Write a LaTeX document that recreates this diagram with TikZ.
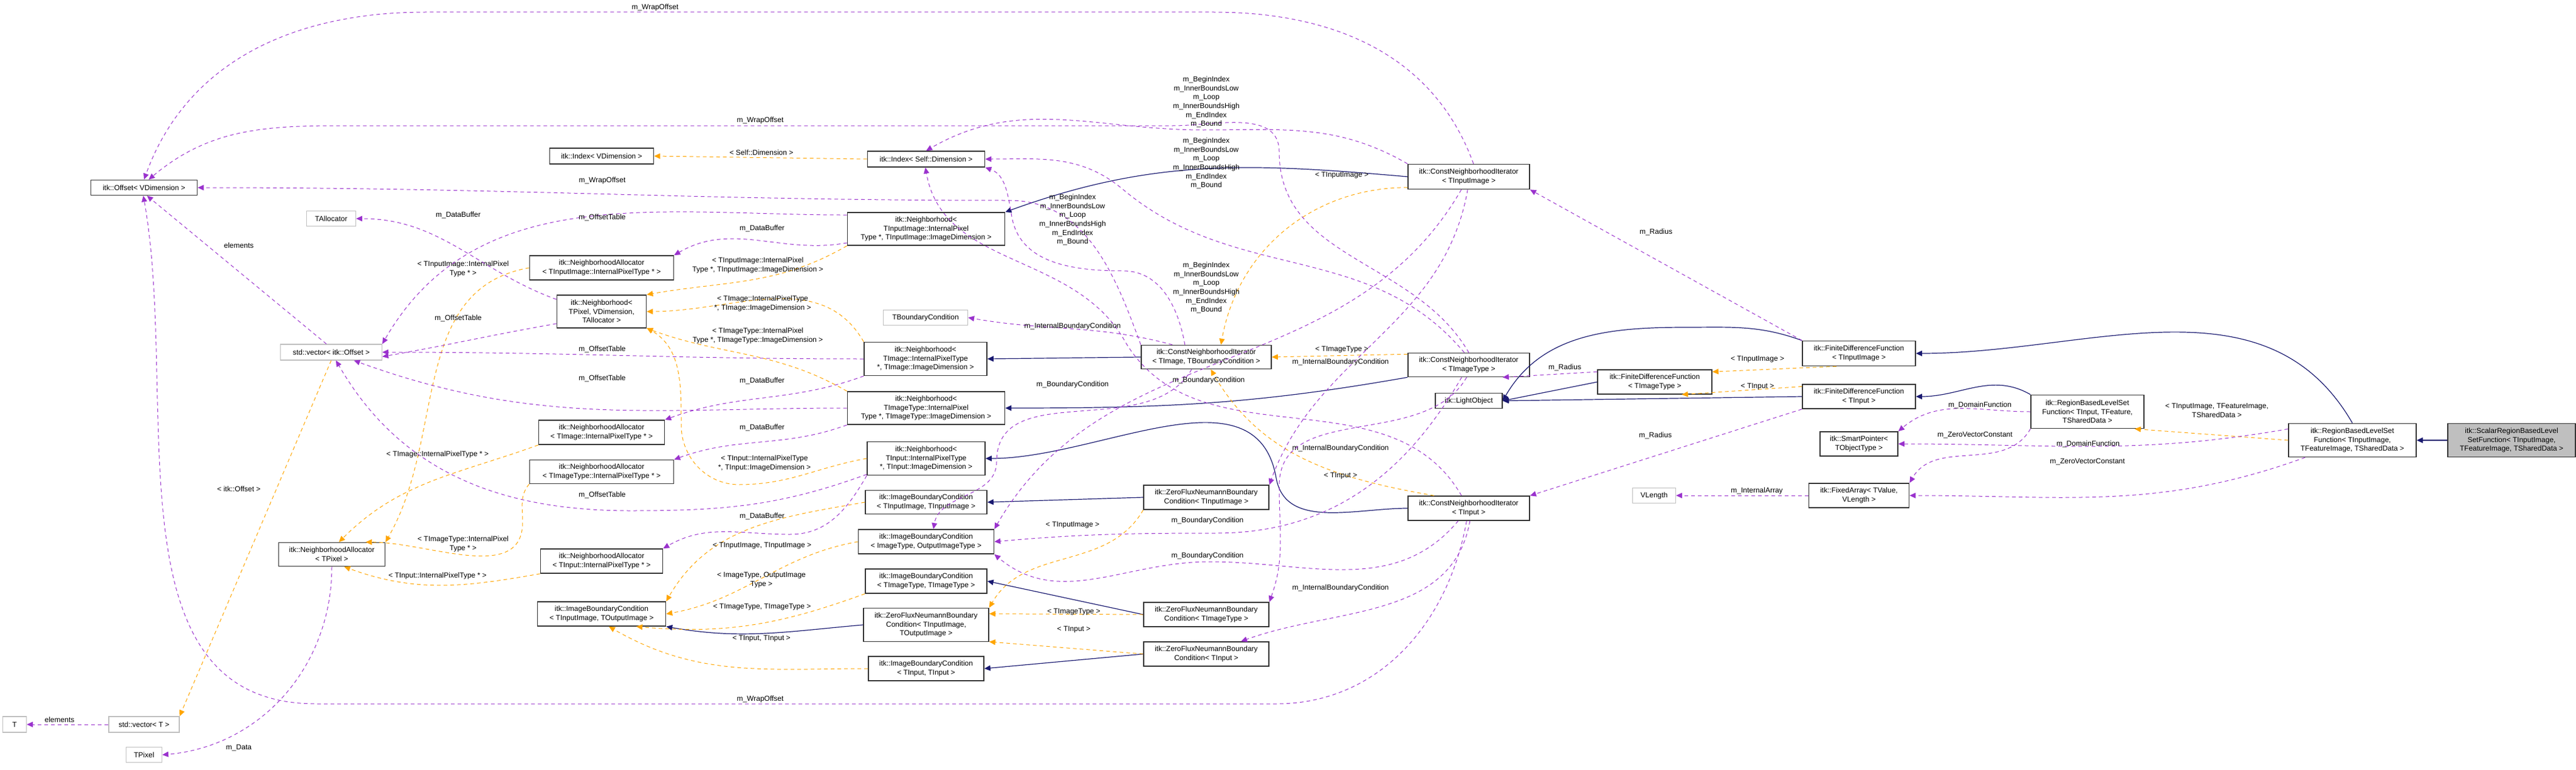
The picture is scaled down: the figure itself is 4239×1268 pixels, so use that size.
\documentclass[tikz,border=0pt]{standalone}
\usepackage{fontspec}
\setmainfont{Liberation Sans}
\usetikzlibrary{arrows.meta}
\definecolor{pur}{HTML}{9A32CD}
\definecolor{ora}{HTML}{FFA500}
\definecolor{nav}{HTML}{191970}
\newcommand\bx[7][]{\node[box,#1,minimum width=#5*0.5pt,minimum height=#6*0.5pt] (#2) at (#3,-#4) {#7};}
\newcommand\lb[3]{\node[lab] at (#1,-#2) {#3};}
\begin{document}
\begin{tikzpicture}[x=0.5pt,y=0.5pt,
  every node/.style={font=\fontsize{6}{7.3}\selectfont},
  box/.style={draw=black!80,line width=0.8pt,fill=white,inner sep=0pt,align=center},
  gbox/.style={draw=black!25,line width=0.6pt},
  lab/.style={inner sep=0pt,align=center},
  tip/.style={-{Triangle[length=5pt,width=4.5pt]}},
  pu/.style={tip,draw=pur,dash pattern=on 3pt off 2.5pt,line width=0.5pt},
  or/.style={tip,draw=ora,dash pattern=on 3pt off 2.5pt,line width=0.5pt},
  nv/.style={tip,draw=nav,line width=0.6pt}]
\useasboundingbox (0,0) rectangle (4239,-1268);
% nodes
\bx{off}{237}{309}{175}{25}{itk::Offset< VDimension >}
\bx[gbox]{talloc}{545}{360}{81}{25}{TAllocator}
\bx[gbox]{vecoff}{545}{580}{167}{26}{std::vector< itk::Offset >}
\bx{nalloc}{546}{913}{175}{39}{itk::NeighborhoodAllocator\\< TPixel >}
\bx[gbox]{vect}{237}{1193}{116}{26}{std::vector< T >}
\bx[gbox]{tt}{24}{1193}{39}{26}{T}
\bx[gbox]{tpix}{237}{1243}{59}{25}{TPixel}
\bx{idxv}{990}{257}{171}{26}{itk::Index< VDimension >}
\bx{idxs}{1524}{262}{193}{26}{itk::Index< Self::Dimension >}
\bx{nbh}{990}{513}{147}{54}{itk::Neighborhood<\\ TPixel, VDimension,\\ TAllocator >}
\bx{naIn}{990}{441}{237}{40}{itk::NeighborhoodAllocator\\< TInputImage::InternalPixelType * >}
\bx{nbIn}{1524}{377}{259}{54}{itk::Neighborhood<\\ TInputImage::InternalPixel\\Type *, TInputImage::ImageDimension >}
\bx[gbox]{tbc}{1523}{523}{139}{25}{TBoundaryCondition}
\bx{nbIm}{1523}{591}{202}{55}{itk::Neighborhood<\\ TImage::InternalPixelType\\ *, TImage::ImageDimension >}
\bx{nbIT}{1524}{672}{259}{54}{itk::Neighborhood<\\ TImageType::InternalPixel\\Type *, TImageType::ImageDimension >}
\bx{naIm}{990}{712}{207}{40}{itk::NeighborhoodAllocator\\< TImage::InternalPixelType * >}
\bx{naIT}{990}{777}{237}{39}{itk::NeighborhoodAllocator\\< TImageType::InternalPixelType * >}
\bx{nbInp}{1524}{755}{194}{55}{itk::Neighborhood<\\ TInput::InternalPixelType\\ *, TInput::ImageDimension >}
\bx{naInp}{990}{924}{201}{40}{itk::NeighborhoodAllocator\\< TInput::InternalPixelType * >}
\bx{ibcII}{1524}{827}{200}{39}{itk::ImageBoundaryCondition\\< TInputImage, TInputImage >}
\bx{ibcIO}{1524}{892}{223}{40}{itk::ImageBoundaryCondition\\< ImageType, OutputImageType >}
\bx{ibcTT}{1524}{957}{200}{40}{itk::ImageBoundaryCondition\\< TImageType, TImageType >}
\bx{zfIO}{1524}{1029}{206}{55}{itk::ZeroFluxNeumannBoundary\\Condition< TInputImage,\\ TOutputImage >}
\bx{ibcTi}{1524}{1101}{190}{40}{itk::ImageBoundaryCondition\\< TInput, TInput >}
\bx{ibcB}{990}{1011}{211}{40}{itk::ImageBoundaryCondition\\< TInputImage, TOutputImage >}
\bx{zfIn}{1985}{819}{206}{40}{itk::ZeroFluxNeumannBoundary\\Condition< TInputImage >}
\bx{zfIT}{1985}{1012}{206}{40}{itk::ZeroFluxNeumannBoundary\\Condition< TImageType >}
\bx{zfInp}{1985}{1077}{206}{40}{itk::ZeroFluxNeumannBoundary\\Condition< TInput >}
\bx{cniB}{1985}{588}{214}{39}{itk::ConstNeighborhoodIterator\\< TImage, TBoundaryCondition >}
\bx{cniIn}{2417}{291}{200}{41}{itk::ConstNeighborhoodIterator\\< TInputImage >}
\bx{cniIT}{2417}{601}{200}{39}{itk::ConstNeighborhoodIterator\\< TImageType >}
\bx{cniInp}{2417}{837}{200}{40}{itk::ConstNeighborhoodIterator\\< TInput >}
\bx{light}{2417}{660}{110}{25}{itk::LightObject}
\bx{fdfIT}{2723}{629}{188}{40}{itk::FiniteDifferenceFunction\\< TImageType >}
\bx{fdfIn}{3059}{582}{186}{41}{itk::FiniteDifferenceFunction\\< TInputImage >}
\bx{fdfInp}{3059}{653}{186}{40}{itk::FiniteDifferenceFunction\\< TInput >}
\bx{rbIn}{3435}{678}{186}{55}{itk::RegionBasedLevelSet\\Function< TInput, TFeature,\\ TSharedData >}
\bx{sp}{3059}{731}{128}{40}{itk::SmartPointer<\\ TObjectType >}
\bx{rbII}{3871}{725}{210}{55}{itk::RegionBasedLevelSet\\Function< TInputImage,\\ TFeatureImage, TSharedData >}
\bx[fill=black!25]{scal}{4133}{725}{210}{55}{itk::ScalarRegionBasedLevel\\SetFunction< TInputImage,\\ TFeatureImage, TSharedData >}
\bx{fa}{3059}{816}{165}{40}{itk::FixedArray< TValue,\\ VLength >}
\bx[gbox]{vl}{2722}{816}{71}{25}{VLength}
% ---------- navy inheritance
\draw[nv] (scal) -- (rbII);
\draw[nv] (rbII.north) to[out=120,in=0] (fdfIn.east);
\draw[nv] (rbIn.north west) to[out=150,in=0] (fdfInp.east);
\draw[nv] (fdfInp.west) -- (light.east);
\draw[nv] (fdfIT.west) -- (light.east);
\draw[nv] (fdfIn.north west) to[out=160,in=0] (2775,-539) to[out=180,in=60] (light.east);
\draw[nv] (cniIn.west) to[out=175,in=20] (nbIn.north east);
\draw[nv] (cniB.west) -- (nbIm.east);
\draw[nv] (cniIT.south west) to[out=190,in=0] (nbIT.east);
\draw[nv] (cniInp.west) to[out=180,in=-80] (2100,-787) to[out=100,in=0] (nbInp.east);
\draw[nv] (zfIn.west) -- (ibcII.east);
\draw[nv] (zfIT.west) -- (ibcTT.east);
\draw[nv] (zfInp.west) -- (ibcTi.east);
\draw[nv] (zfIO.west) to[out=185,in=-10] (ibcB.south east);
% ---------- orange template
\draw[or] (idxs.west) -- (idxv.east); \lb{1253}{251}{< Self::Dimension >}
\draw[or] (nbIn.south west) to[out=210,in=10] (nbh.north east); \lb{1247}{437}{< TInputImage::InternalPixel\\Type *, TInputImage::ImageDimension >}
\draw[or] (nbIm.north west) to[out=120,in=0] (nbh.east); \lb{1255}{500}{< TImage::InternalPixelType\\*, TImage::ImageDimension >}
\draw[or] (nbIT.north west) to[out=150,in=-20] (nbh.south east); \lb{1247}{553}{< TImageType::InternalPixel\\Type *, TImageType::ImageDimension >}
\draw[or] (nbInp.west) to[out=190,in=0] (1216,-798) to[out=180,in=-90] (1121,-700) to[out=90,in=-30] (nbh.-20); \lb{1258}{763}{< TInput::InternalPixelType\\*, TInput::ImageDimension >}
\draw[or] (naIn.west) to[out=190,in=60] (nalloc.north east); \lb{762}{443}{< TInputImage::InternalPixel\\Type * >}
\draw[or] (naIm.south west) to[out=200,in=45] (nalloc.60); \lb{720}{748}{< TImage::InternalPixelType * >}
\draw[or] (naIT.south west) to[out=230,in=90] (860,-860) to[out=-90,in=0] (nalloc.20); \lb{762}{896}{< TImageType::InternalPixel\\Type * >}
\draw[or] (naInp.south west) to[out=190,in=-20] (nalloc.-45); \lb{720}{948}{< TInput::InternalPixelType * >}
\draw[or] (vecoff.south) -- (vect.north east); \lb{393}{805}{< itk::Offset >}
\draw[or] (ibcII.west) to[out=190,in=60] (ibcB.north east); \lb{1254}{899}{< TInputImage, TInputImage >}
\draw[or] (ibcIO.west) to[out=190,in=10] (ibcB.east); \lb{1253}{955}{< ImageType, OutputImage\\Type >}
\draw[or] (ibcTT.south west) to[out=200,in=-5] (ibcB.-20); \lb{1254}{1000}{< TImageType, TImageType >}
\draw[or] (ibcTi.west) to[out=180,in=-30] (ibcB.-60); \lb{1253}{1052}{< TInput, TInput >}
\draw[or] (zfIn.south west) to[out=240,in=60] (zfIO.north east); \lb{1765}{865}{< TInputImage >}
\draw[or] (zfIT.west) -- (zfIO.10); \lb{1767}{1008}{< TImageType >}
\draw[or] (zfInp.west) -- (zfIO.-15); \lb{1767}{1037}{< TInput >}
\draw[or] (cniIn.-170) to[out=180,in=80] (cniB.40); \lb{2208}{289}{< TInputImage >}
\draw[or] (cniIT.170) -- (cniB.east); \lb{2208}{576}{< TImageType >}
\draw[or] (cniInp.160) to[out=170,in=-60] (cniB.-70); \lb{2206}{784}{< TInput >}
\draw[or] (fdfIn.-150) -- (fdfIT.10); \lb{2892}{592}{< TInputImage >}
\draw[or] (fdfInp.170) -- (fdfIT.-25); \lb{2892}{637}{< TInput >}
\draw[or] (rbII.west) -- (rbIn.-20); \lb{3648}{676}{< TInputImage, TFeatureImage,\\ TSharedData >}
% ---------- purple usage
\draw[pu] (vect.west) -- (tt.east); \lb{98}{1185}{elements}
\draw[pu] (nalloc.south) to[out=-90,in=5] (tpix.east); \lb{393}{1232}{m\_Data}
\draw[pu] (vecoff.120) -- (off.-70); \lb{393}{404}{elements}
\draw[pu] (nbh.165) to[out=160,in=0] (talloc.east); \lb{754}{354}{m\_DataBuffer}
\draw[pu] (nbh.-165) to[out=190,in=10] (vecoff.-5); \lb{754}{524}{m\_OffsetTable}
\draw[pu] (nbIn.170) to[out=180,in=60] (vecoff.north east); \lb{991}{358}{m\_OffsetTable}
\draw[pu] (nbIn.-170) to[out=190,in=30] (naIn.north east); \lb{1254}{376}{m\_DataBuffer}
\draw[pu] (nbIm.west) to[out=180,in=0] (vecoff.east); \lb{991}{575}{m\_OffsetTable}
\draw[pu] (nbIm.south west) to[out=200,in=20] (naIm.north east); \lb{1254}{627}{m\_DataBuffer}
\draw[pu] (nbIT.west) to[out=180,in=-20] (vecoff.-20); \lb{991}{623}{m\_OffsetTable}
\draw[pu] (nbIT.south west) to[out=200,in=20] (naIT.north east); \lb{1254}{704}{m\_DataBuffer}
\draw[pu] (nbInp.-165) to[out=200,in=0] (1037,-841) to[out=180,in=-60] (vecoff.-60); \lb{991}{815}{m\_OffsetTable}
\draw[pu] (nbInp.south west) to[out=240,in=0] (1300,-880) to[out=180,in=30] (naInp.north east); \lb{1254}{850}{m\_DataBuffer}
% offsets
\draw[pu] (cniIn.70) to[out=110,in=0] (1997,-20) -- (700,-20) to[out=180,in=70] (off.north);
\draw[pu] (cniIT.north) to[out=120,in=-90] (2105,-250) to[out=90,in=0] (1930,-207) -- (560,-207) to[out=180,in=40] (off.60);
\draw[pu] (cniB.north west) to[out=110,in=0] (1660,-330) to[out=180,in=0] (off.east);
\draw[pu] (cniInp.-100) to[out=-100,in=0] (2100,-1159) -- (520,-1159) to[out=180,in=-80] (off.-95);
\lb{1078}{12}{m\_WrapOffset}
\lb{1251}{198}{m\_WrapOffset}
\lb{991}{297}{m\_WrapOffset}
\lb{1251}{1151}{m\_WrapOffset}
% index
\draw[pu] (cniIn.north west) to[out=150,in=0] (1980,-214) to[out=180,in=30] (idxs.north);
\draw[pu] (cniIT.110) to[out=130,in=-40] (1848,-312) to[out=140,in=0] (idxs.east);
\draw[pu] (cniB.150) to[out=100,in=0] (1848,-446) to[out=180,in=-80] (1665,-357) to[out=100,in=-20] (idxs.south east);
\draw[pu] (cniInp.120) to[out=120,in=-60] (1850,-560) to[out=120,in=-80] (idxs.-95);
\lb{1985}{168}{m\_BeginIndex\\m\_InnerBoundsLow\\m\_Loop\\m\_InnerBoundsHigh\\m\_EndIndex\\m\_Bound}
\lb{1985}{269}{m\_BeginIndex\\m\_InnerBoundsLow\\m\_Loop\\m\_InnerBoundsHigh\\m\_EndIndex\\m\_Bound}
\lb{1765}{362}{m\_BeginIndex\\m\_InnerBoundsLow\\m\_Loop\\m\_InnerBoundsHigh\\m\_EndIndex\\m\_Bound}
\lb{1985}{474}{m\_BeginIndex\\m\_InnerBoundsLow\\m\_Loop\\m\_InnerBoundsHigh\\m\_EndIndex\\m\_Bound}
% boundary conditions
\draw[pu] (cniB.160) to[out=165,in=-10] (tbc.east); \lb{1765}{537}{m\_InternalBoundaryCondition}
\draw[pu] (cniB.-140) to[out=240,in=90] (1640,-760) to[out=-90,in=80] (ibcIO.60); \lb{1765}{633}{m\_BoundaryCondition}
\draw[pu] (cniIn.-120) to[out=240,in=60] (ibcIO.north east); \lb{1989}{626}{m\_BoundaryCondition}
\draw[pu] (cniIn.-95) to[out=-100,in=70] (zfIn.north east); \lb{2206}{738}{m\_InternalBoundaryCondition}
\draw[pu] (cniIT.-120) to[out=240,in=0] (2000,-878) to[out=180,in=5] (ibcIO.east); \lb{1987}{857}{m\_BoundaryCondition}
\draw[pu] (cniIT.-100) to[out=240,in=90] (2105,-800) to[out=-90,in=70] (zfIT.north east); \lb{2206}{596}{m\_InternalBoundaryCondition}
\draw[pu] (cniInp.-130) to[out=230,in=0] (1990,-925) to[out=180,in=-40] (ibcIO.south east); \lb{1987}{915}{m\_BoundaryCondition}
\draw[pu] (cniInp.-85) to[out=-100,in=20] (zfInp.20); \lb{2206}{968}{m\_InternalBoundaryCondition}
% radius etc.
\draw[pu] (fdfIT.170) -- (cniIT.-20); \lb{2575}{605}{m\_Radius}
\draw[pu] (fdfIn.north west) -- (cniIn.south east); \lb{2725}{382}{m\_Radius}
\draw[pu] (fdfInp.south west) -- (cniInp.north east); \lb{2724}{717}{m\_Radius}
\draw[pu] (rbIn.west) to[out=180,in=40] (sp.north east); \lb{3258}{667}{m\_DomainFunction}
\draw[pu] (rbII.170) to[out=190,in=0] (sp.east); \lb{3436}{731}{m\_DomainFunction}
\draw[pu] (rbIn.south west) to[out=240,in=60] (fa.north east); \lb{3250}{716}{m\_ZeroVectorConstant}
\draw[pu] (rbII.-160) to[out=200,in=0] (fa.east); \lb{3435}{760}{m\_ZeroVectorConstant}
\draw[pu] (fa.west) -- (vl.east); \lb{2891}{808}{m\_InternalArray}
\end{tikzpicture}
\end{document}
